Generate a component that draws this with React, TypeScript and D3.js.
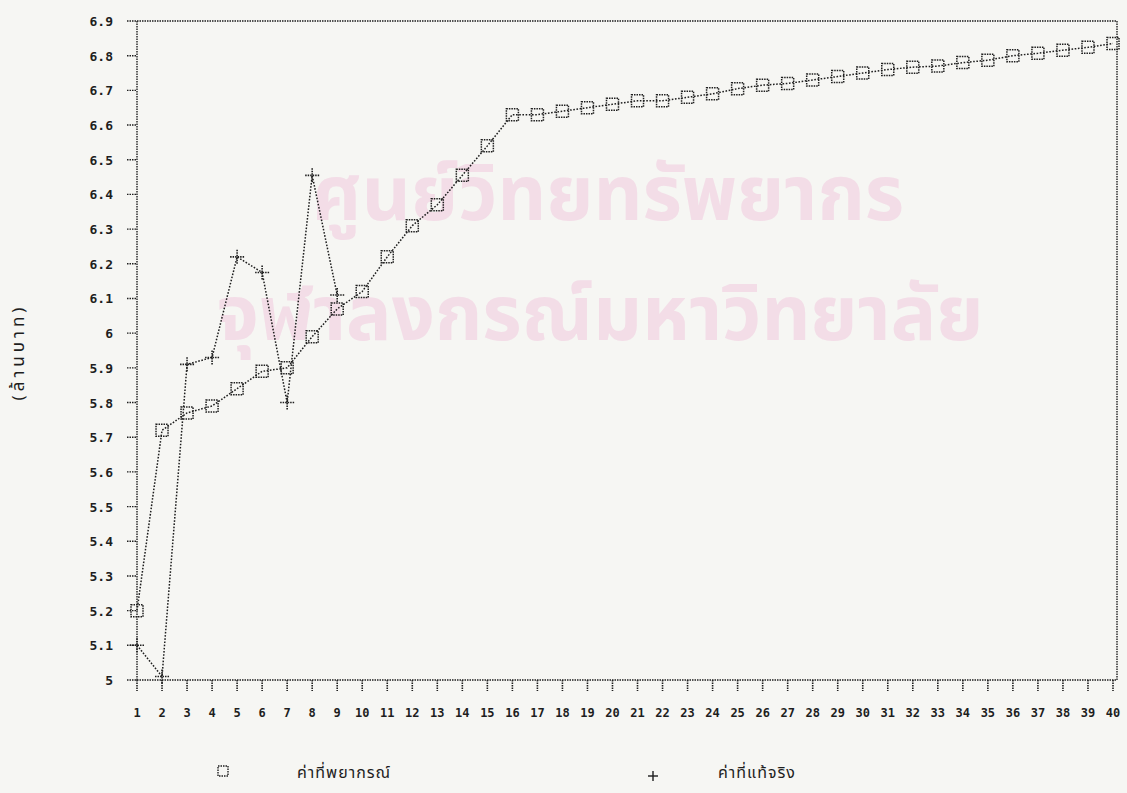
import React from "react";
import * as d3 from "d3";

const periods = [1, 2, 3, 4, 5, 6, 7, 8, 9, 10, 11, 12, 13, 14, 15, 16, 17, 18, 19, 20, 21, 22, 23, 24, 25, 26, 27, 28, 29, 30, 31, 32, 33, 34, 35, 36, 37, 38, 39, 40];
const forecast = [5.2, 5.72, 5.77, 5.79, 5.84, 5.89, 5.9, 5.99, 6.07, 6.12, 6.22, 6.31, 6.37, 6.455, 6.54, 6.63, 6.63, 6.64, 6.65, 6.66, 6.67, 6.67, 6.68, 6.69, 6.705, 6.715, 6.72, 6.73, 6.74, 6.75, 6.76, 6.767, 6.77, 6.78, 6.787, 6.8, 6.807, 6.816, 6.824, 6.835];
const actualPeriods = [1, 2, 3, 4, 5, 6, 7, 8, 9];
const actual = [5.1, 5.01, 5.91, 5.93, 6.22, 6.175, 5.8, 6.455, 6.11];
const yTicks = [5, 5.1, 5.2, 5.3, 5.4, 5.5, 5.6, 5.7, 5.8, 5.9, 6, 6.1, 6.2, 6.3, 6.4, 6.5, 6.6, 6.7, 6.8, 6.9];
const yTickLabels = ["5", "5.1", "5.2", "5.3", "5.4", "5.5", "5.6", "5.7", "5.8", "5.9", "6", "6.1", "6.2", "6.3", "6.4", "6.5", "6.6", "6.7", "6.8", "6.9"];
const yTitle = "(ล้านบาท)";
const seriesNames = ["ค่าที่พยากรณ์", "ค่าที่แท้จริง"];
const watermark = ["ศูนย์วิทยทรัพยากร", "จุฬาลงกรณ์มหาวิทยาลัย"];

const W = 1127;
const H = 793;
const ink = "#1e1e1e";
const mono = "'DejaVu Sans Mono', 'Liberation Mono', monospace";
const thai = "'Noto Sans Thai', 'Noto Sans', sans-serif";

export default function App() {
  const x = d3.scaleLinear().domain([1, 40]).range([137, 1113]);
  const y = d3.scaleLinear().domain([5, 6.9]).range([680, 21]);
  const frameRight = x(40) + 4;

  const fLine = d3
    .line<number>()
    .x((_, i) => x(periods[i]))
    .y((d) => y(d));
  const aLine = d3
    .line<number>()
    .x((_, i) => x(actualPeriods[i]))
    .y((d) => y(d));

  const dash = "1.6 1.6";

  return (
    <div style={{ position: "fixed", left: 0, top: 0 }}>
      <svg width={W} height={H} viewBox={`0 0 ${W} ${H}`} style={{ display: "block" }}>
        <rect x={0} y={0} width={W} height={H} fill="#f6f6f3" />
        {/* watermark */}
        <g fill="#f3dde7" fontFamily={thai} fontWeight="bold" textAnchor="middle">
          <text x={608} y={220} fontSize={76}>{watermark[0]}</text>
          <text x={600} y={340} fontSize={76}>{watermark[1]}</text>
        </g>

        {/* frame */}
        <g stroke={ink} strokeWidth={1.4} strokeDasharray="1.5 1" fill="none">
          <line x1={x(1)} x2={frameRight} y1={y(6.9)} y2={y(6.9)} />
          <line x1={frameRight} x2={frameRight} y1={y(6.9)} y2={y(5)} />
          <line x1={x(1)} x2={frameRight} y1={y(5)} y2={y(5)} />
          <line x1={x(1)} x2={x(1)} y1={y(6.9)} y2={y(5)} />
        </g>

        {/* y ticks */}
        <g>
          {yTicks.map((t, i) => (
            <g key={t}>
              <line x1={x(1) - 10} x2={x(1)} y1={y(t)} y2={y(t)} stroke={ink} strokeWidth={1.4} strokeDasharray="1.5 1" />
              <text x={x(1) - 24} y={y(t) + 5} textAnchor="end" fontFamily={mono} fontSize={13} fontWeight="bold" fill={ink}>
                {yTickLabels[i]}
              </text>
            </g>
          ))}
        </g>

        {/* x ticks */}
        <g>
          {periods.map((p) => (
            <g key={p}>
              <line x1={x(p)} x2={x(p)} y1={y(5)} y2={y(5) + 11} stroke={ink} strokeWidth={1.6} strokeDasharray="1.5 1" />
              <text x={x(p)} y={y(5) + 37} textAnchor="middle" fontFamily={mono} fontSize={12} fontWeight="bold" fill={ink}>
                {p}
              </text>
            </g>
          ))}
        </g>

        {/* y title */}
        <text
          transform={`translate(24, 352) rotate(-90)`}
          textAnchor="middle"
          fontFamily={thai}
          fontSize={17}
          letterSpacing={4}
          fill={ink}
        >
          {yTitle}
        </text>

        {/* series lines */}
        <path d={fLine(forecast) || ""} fill="none" stroke={ink} strokeWidth={1.5} strokeDasharray={dash} />
        <path d={aLine(actual) || ""} fill="none" stroke={ink} strokeWidth={1.5} strokeDasharray={dash} />

        {/* markers: squares */}
        {forecast.map((v, i) => (
          <rect
            key={`s${i}`}
            x={x(periods[i]) - 6}
            y={y(v) - 6}
            width={12}
            height={12}
            fill="none"
            stroke={ink}
            strokeWidth={1.5}
            strokeDasharray="1.5 1"
          />
        ))}
        {/* markers: plus */}
        {actual.map((v, i) => (
          <g key={`p${i}`} stroke={ink} strokeWidth={1.6} strokeDasharray="1.5 1">
            <line x1={x(actualPeriods[i]) - 7} x2={x(actualPeriods[i]) + 7} y1={y(v)} y2={y(v)} />
            <line x1={x(actualPeriods[i])} x2={x(actualPeriods[i])} y1={y(v) - 7} y2={y(v) + 7} />
          </g>
        ))}

        {/* legend */}
        <g>
          <rect x={218} y={766} width={10} height={10} fill="none" stroke={ink} strokeWidth={1.4} strokeDasharray="1.5 1" />
          <text x={297} y={778} fontFamily={thai} fontSize={16} letterSpacing={1} fill={ink}>
            {seriesNames[0]}
          </text>
          <g stroke={ink} strokeWidth={1.4}>
            <line x1={648} x2={658} y1={776} y2={776} />
            <line x1={653} x2={653} y1={771} y2={781} />
          </g>
          <text x={718} y={778} fontFamily={thai} fontSize={16} letterSpacing={1} fill={ink}>
            {seriesNames[1]}
          </text>
        </g>
      </svg>
    </div>
  );
}
